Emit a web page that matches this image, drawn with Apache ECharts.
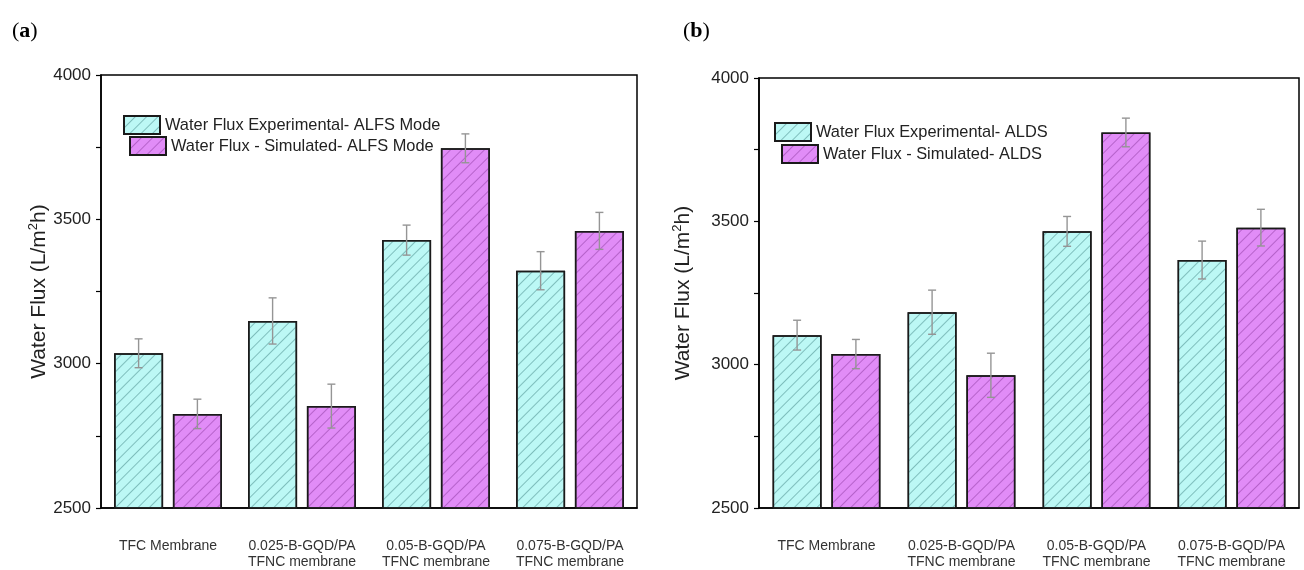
<!DOCTYPE html>
<html>
<head>
<meta charset="utf-8">
<script src="https://cdn.jsdelivr.net/npm/echarts@6/dist/echarts.min.js"></script>
<style>
html,body{margin:0;padding:0;background:#fff;}
#chart{width:1304px;height:570px;}
</style>
</head>
<body>
<div id="chart"></div>
<script>
// ---- data ----
const categories = ['TFC Membrane', '0.025-B-GQD/PA\nTFNC membrane', '0.05-B-GQD/PA\nTFNC membrane', '0.075-B-GQD/PA\nTFNC membrane'];
const nameExpA = 'Water Flux Experimental- ALFS Mode';
const nameSimA = 'Water Flux - Simulated- ALFS Mode';
const nameExpB = 'Water Flux Experimental- ALDS';
const nameSimB = 'Water Flux - Simulated- ALDS';
const expA = [3036, 3148, 3428, 3322];
const errExpA = [50, 80, 52, 66];
const simA = [2826, 2853, 3746, 3460];
const errSimA = [51, 76, 50, 64];
const expB = [3103, 3183, 3465, 3365];
const errExpB = [52, 77, 52, 66];
const simB = [3037, 2963, 3810, 3478];
const errSimB = [51, 77, 50, 64];
const yMin = 2500, yMax = 4000, yStep = 250, yLabelStep = 500;
const yName = '{a|Water Flux (L/m}{s|2}{a|h)}';

// ---- styles ----
const cyan = '#bcf8f5', magenta = '#e18cf7';
const BAR_W = 49, BAR_GAP = 0.2;
const OFF = (BAR_W + BAR_W * BAR_GAP) / 2;
function decal(col){
  return {symbol:'rect', symbolSize:1, dashArrayX:[1,0], dashArrayY:[1,7], rotation:-Math.PI/4, color:col};
}
const cyanStyle = {color:cyan, borderColor:'#1a1a1a', borderWidth:1.5, decal:decal('rgba(40,110,110,0.42)')};
const magStyle = {color:magenta, borderColor:'#1a1a1a', borderWidth:1.5, decal:decal('rgba(110,30,130,0.38)')};

function errSeries(vals, errs, gi, off){
  return {
    type:'custom', xAxisIndex:gi, yAxisIndex:gi, z:10, silent:true,
    data: vals.map((v,i)=>[i, v-errs[i], v+errs[i]]),
    renderItem: function(params, api){
      const lo = api.coord([api.value(0), api.value(1)]);
      const hi = api.coord([api.value(0), api.value(2)]);
      const x = lo[0] + off, c = 4;
      const st = {stroke:'#959595', lineWidth:1.4};
      return {type:'group', children:[
        {type:'line', shape:{x1:x, y1:lo[1], x2:x, y2:hi[1]}, style:st},
        {type:'line', shape:{x1:x-c, y1:hi[1], x2:x+c, y2:hi[1]}, style:st},
        {type:'line', shape:{x1:x-c, y1:lo[1], x2:x+c, y2:lo[1]}, style:st}
      ]};
    }
  };
}

function xAxis(gi){
  return {type:'category', gridIndex:gi, data:categories,
    axisLine:{lineStyle:{color:'#000', width:1.5}}, axisTick:{show:false},
    axisLabel:{color:'#333', fontSize:14, lineHeight:16, margin:30, fontFamily:'Liberation Sans', interval:0}};
}
function yAxis(gi, gap){
  return {type:'value', gridIndex:gi, min:yMin, max:yMax, interval:yStep,
    name:yName, nameLocation:'middle', nameGap:gap, nameRotate:90,
    nameTextStyle:{rich:{a:{fontSize:21, color:'#222', fontFamily:'Liberation Sans', lineHeight:24},
                         s:{fontSize:13, color:'#222', fontFamily:'Liberation Sans', verticalAlign:'top', lineHeight:24}}},
    axisLine:{show:true, lineStyle:{color:'#000', width:1.5}},
    axisTick:{show:true, inside:false, length:5, lineStyle:{color:'#000', width:1.2}},
    splitLine:{show:false},
    axisLabel:{fontSize:17, color:'#222', margin:10, fontFamily:'Liberation Sans',
      formatter: v => (v % yLabelStep === 0 ? String(v) : '')}};
}
function legend(name, left, top){
  return {data:[name], left:left, top:top, padding:0, itemWidth:36, itemHeight:18, icon:'rect',
    textStyle:{fontSize:16.4, color:'#222', fontFamily:'Liberation Sans'}, selectedMode:false};
}

const option = {
  backgroundColor:'#fff',
  animation:false,
  title:[
    {text:'({b|a})', left:7, top:15, textStyle:{fontSize:22, fontWeight:'normal', color:'#000', fontFamily:'Liberation Serif',
      rich:{b:{fontSize:22, fontWeight:'bold', fontFamily:'Liberation Serif', color:'#000'}}}},
    {text:'({b|b})', left:678, top:15, textStyle:{fontSize:22, fontWeight:'normal', color:'#000', fontFamily:'Liberation Serif',
      rich:{b:{fontSize:22, fontWeight:'bold', fontFamily:'Liberation Serif', color:'#000'}}}}
  ],
  legend:[
    legend(nameExpA, 123, 115), legend(nameSimA, 129, 136),
    legend(nameExpB, 774, 122), legend(nameSimB, 781, 144)
  ],
  grid:[
    {left:101, top:75, width:536, height:437, show:true, borderColor:'#000', borderWidth:1.5, backgroundColor:'transparent'},
    {left:759, top:78, width:540, height:437, show:true, borderColor:'#000', borderWidth:1.5, backgroundColor:'transparent'}
  ],
  xAxis:[xAxis(0), xAxis(1)],
  yAxis:[yAxis(0, 48), yAxis(1, 64)],
  series:[
    {name:nameExpA, type:'bar', xAxisIndex:0, yAxisIndex:0, data:expA, barWidth:BAR_W, barGap:'20%', itemStyle:cyanStyle},
    {name:nameSimA, type:'bar', xAxisIndex:0, yAxisIndex:0, data:simA, barWidth:BAR_W, barGap:'20%', itemStyle:magStyle},
    {name:nameExpB, type:'bar', xAxisIndex:1, yAxisIndex:1, data:expB, barWidth:BAR_W, barGap:'20%', itemStyle:cyanStyle},
    {name:nameSimB, type:'bar', xAxisIndex:1, yAxisIndex:1, data:simB, barWidth:BAR_W, barGap:'20%', itemStyle:magStyle},
    errSeries(expA, errExpA, 0, -OFF), errSeries(simA, errSimA, 0, OFF),
    errSeries(expB, errExpB, 1, -OFF), errSeries(simB, errSimB, 1, OFF)
  ]
};
const chart = echarts.init(document.getElementById('chart'), null, {renderer:'canvas'});
chart.setOption(option);
</script>
</body>
</html>
